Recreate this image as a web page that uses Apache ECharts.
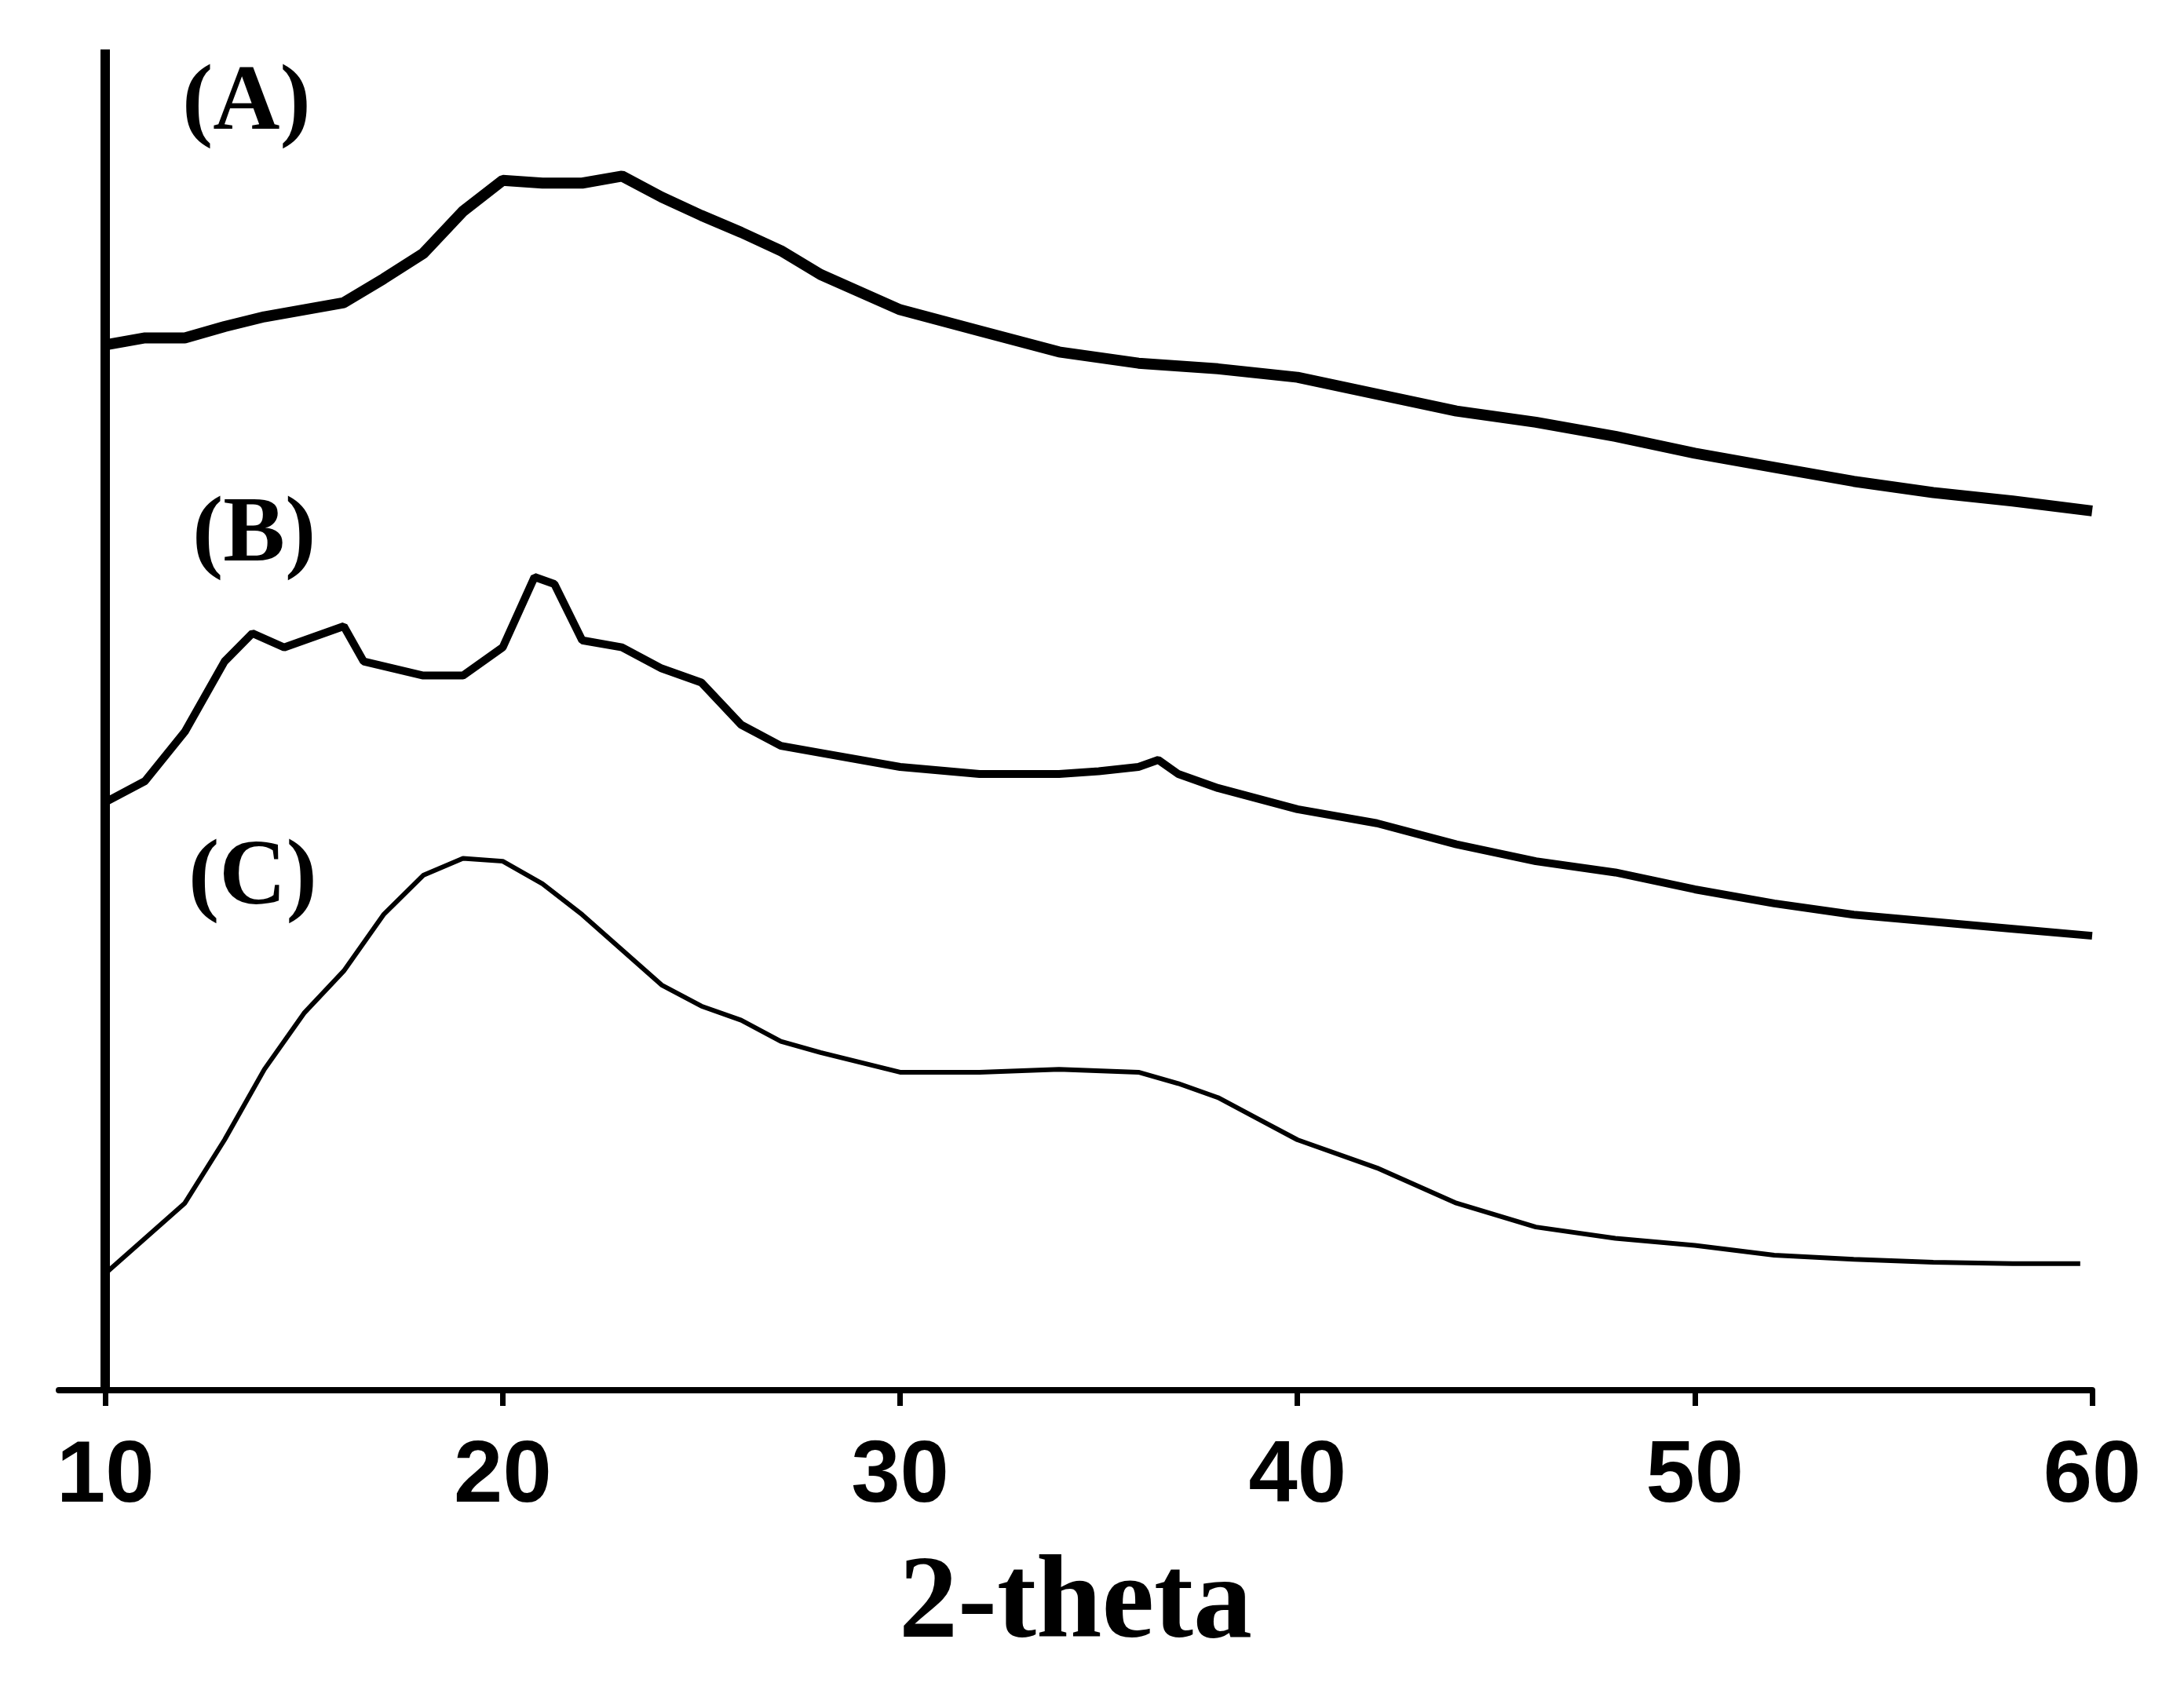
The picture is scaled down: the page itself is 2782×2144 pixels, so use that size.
<!DOCTYPE html>
<html>
<head>
<meta charset="utf-8">
<script src="https://cdn.jsdelivr.net/npm/echarts@6/dist/echarts.min.js"></script>
<style>html,body{margin:0;background:#fff}#chart{width:2782px;height:2144px}</style>
</head>
<body>
<div id="chart"></div>
<script>
// 2-theta positions and curve heights (arbitrary intensity units, offset per curve)
var thetaA = [10, 11, 12, 13, 14, 15, 16, 17, 18, 19, 20, 21, 22, 23, 24, 25, 26, 27, 28, 30, 32, 34, 36, 38, 40, 42, 44, 46, 48, 50, 52, 54, 56, 58, 60];
var curveA = [743, 748, 748, 756, 763, 768, 773, 790, 808, 838, 860, 858, 858, 863, 848, 835, 823, 810, 793, 768, 753, 738, 730, 726, 720, 708, 696, 688, 678, 666, 656, 646, 638, 632, 625];

var thetaB = [10, 11, 12, 13, 13.7, 14.5, 15.5, 16, 16.5, 18, 19, 20, 20.8, 21.3, 22, 23, 24, 25, 26, 27, 28, 30, 32, 34, 35, 36, 36.5, 37, 38, 40, 42, 44, 46, 48, 50, 52, 54, 56, 58, 60];
var curveB = [418, 433, 468, 518, 538, 528, 538, 543, 518, 508, 508, 528, 578, 573, 533, 528, 513, 503, 473, 458, 453, 443, 438, 438, 440, 443, 448, 438, 428, 413, 403, 388, 376, 368, 356, 346, 338, 333, 328, 323];

var thetaC = [10, 11, 12, 13, 14, 15, 16, 17, 18, 19, 20, 21, 22, 23, 24, 25, 26, 27, 28, 29, 30, 32, 34, 36, 37, 38, 39, 40, 42, 44, 46, 48, 50, 52, 54, 56, 58, 59.7];
var curveC = [83, 108, 133, 178, 228, 268, 298, 338, 366, 378, 376, 360, 338, 313, 288, 273, 263, 248, 240, 233, 226, 226, 228, 226, 218, 208, 193, 178, 158, 133, 116, 108, 103, 96, 93, 91, 90, 90];

var xTicks = [10, 20, 30, 40, 50, 60];

function pairs(xs, ys) {
    return xs.map(function(x, i) { return [x, ys[i]]; });
}

var chart = echarts.init(document.getElementById('chart'));
var labelFont = {fontFamily: 'Liberation Serif', fontWeight: 'bold', fontSize: 118, fill: '#000'};

chart.setOption({
    animation: false,
    grid: {left: 75, right: 117, top: 63, bottom: 373},
    xAxis: {
        type: 'value', min: 8.83, max: 60,
        name: '2-theta', nameLocation: 'middle', nameGap: 200,
        nameTextStyle: {fontFamily: 'Liberation Serif', fontWeight: 'bold', fontSize: 150, color: '#000'},
        axisLine: {lineStyle: {color: '#000', width: 8}},
        axisTick: {show: true, customValues: xTicks, length: 20, lineStyle: {color: '#000', width: 7}},
        axisLabel: {customValues: xTicks, margin: 55, fontFamily: 'Liberation Sans', fontWeight: 'bold', fontSize: 112, color: '#000'},
        splitLine: {show: false}
    },
    yAxis: {
        type: 'value', min: 0, max: 953,
        show: false
    },
    graphic: [
        {type: 'text', left: 232, top: 75, style: Object.assign({text: '(A)'}, labelFont)},
        {type: 'text', left: 245, top: 625, style: Object.assign({text: '(B)'}, labelFont)},
        {type: 'text', left: 240, top: 1062, style: Object.assign({text: '(C)'}, labelFont)}
    ],
    series: [
        {type: 'line', data: pairs(thetaA, curveA), symbol: 'none', lineStyle: {color: '#000', width: 14},
         markLine: {silent: true, symbol: 'none', label: {show: false}, lineStyle: {color: '#000', width: 12, type: 'solid'}, data: [{xAxis: 10}]}},
        {type: 'line', data: pairs(thetaB, curveB), symbol: 'none', lineStyle: {color: '#000', width: 10}},
        {type: 'line', data: pairs(thetaC, curveC), symbol: 'none', lineStyle: {color: '#000', width: 6}}
    ]
});
</script>
</body>
</html>
